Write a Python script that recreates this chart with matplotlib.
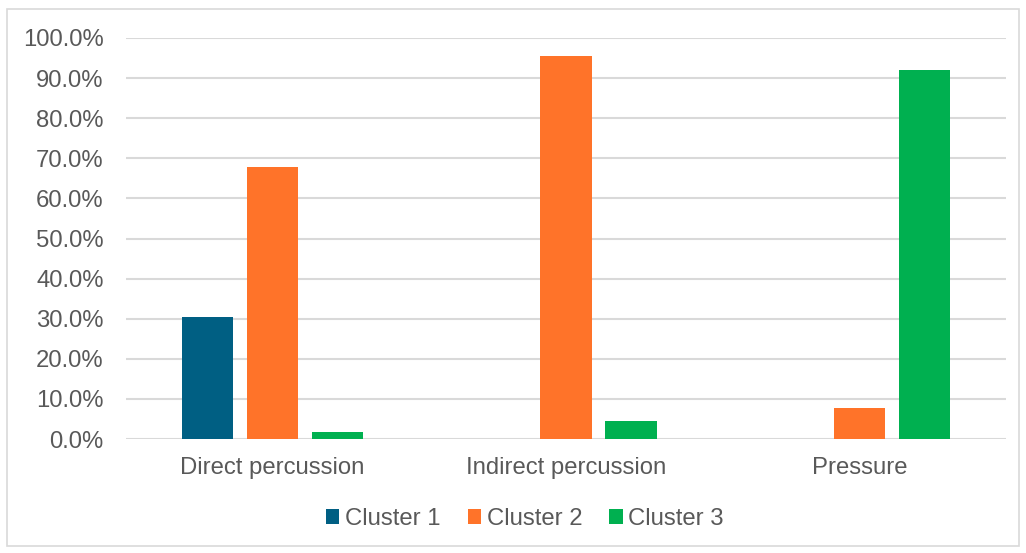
#!/usr/bin/env python3

import numpy as np
import matplotlib
matplotlib.use('Agg')
import matplotlib.pyplot as plt
from matplotlib.patches import Rectangle
from matplotlib.ticker import PercentFormatter

categories = ['Direct percussion', 'Indirect percussion', 'Pressure']
series = ['Cluster 1', 'Cluster 2', 'Cluster 3']
cluster1 = [30.3, 0.0, 0.0]
cluster2 = [67.8, 95.5, 7.8]
cluster3 = [1.7, 4.5, 92.0]
colors = ['#005F83', '#FF7329', '#00B050']

plt.rcParams['font.family'] = ['Liberation Sans', 'DejaVu Sans']
text_color = '#595959'
fsize = 17.2

fig = plt.figure(figsize=(10.26, 5.53), dpi=100)
ax = fig.add_axes([126/1026, 1 - 439/553, 880/1026, 401/553])

x = np.arange(len(categories))
width = 0.174
step = 0.2216
for i, (name, vals) in enumerate(zip(series, [cluster1, cluster2, cluster3])):
    ax.bar(x + (i - 1)*step, vals, width, color=colors[i], label=name, zorder=3)

ax.set_xlim(-0.5, len(categories) - 0.5)
ax.set_ylim(0, 100)
ax.set_yticks(np.arange(0, 101, 10))
ax.yaxis.set_major_formatter(PercentFormatter(decimals=1))
ax.set_xticks(x)
ax.set_xticklabels(categories)
ax.grid(axis='y', color='#D9D9D9', linewidth=1.5, zorder=0)
for s in ax.spines.values():
    s.set_visible(False)
ax.tick_params(axis='both', length=0, labelsize=fsize, colors=text_color)
ax.tick_params(axis='y', pad=16)
ax.tick_params(axis='x', pad=13)

fig.legend(loc='center', bbox_to_anchor=(525/1026, 1 - 519/553), ncol=3,
           frameon=False, fontsize=fsize, labelcolor=text_color,
           handlelength=0.55, handleheight=0.55, handletextpad=0.25, columnspacing=1.13)

fig.patches.append(Rectangle((7/1026, 1 - 546/553), 1012/1026, 537/553,
                             transform=fig.transFigure, fill=False,
                             edgecolor='#D9D9D9', linewidth=1.2))

fig.savefig('out.png', dpi=100)
